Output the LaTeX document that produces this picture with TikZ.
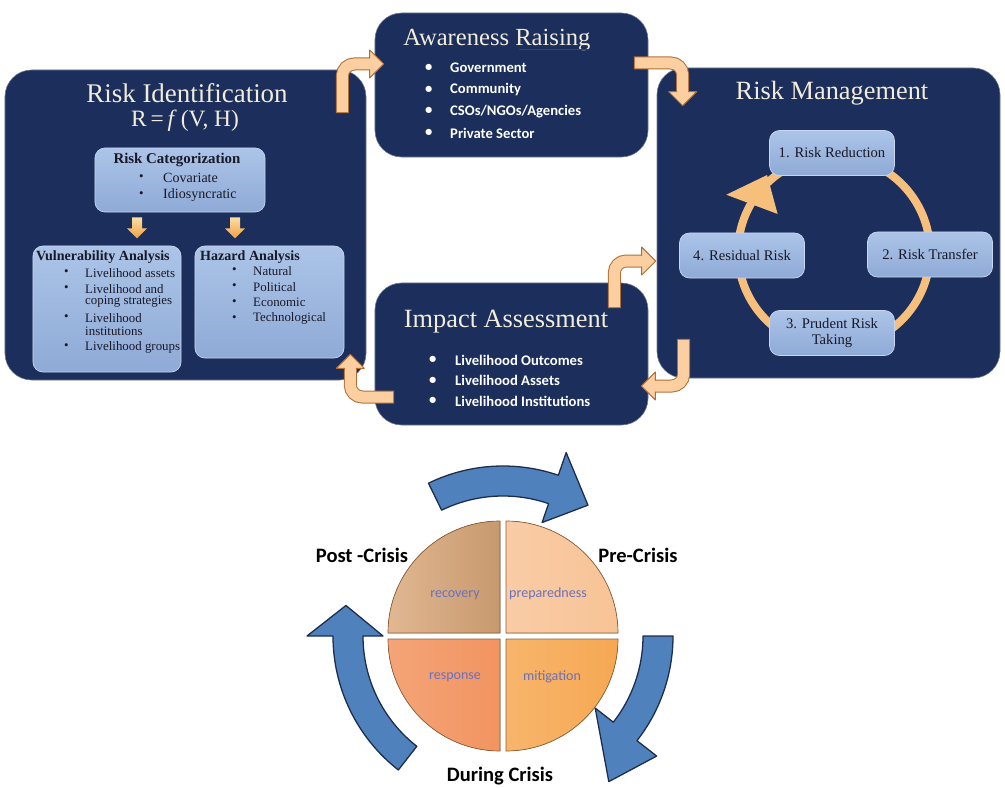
\documentclass[tikz,border=0pt]{standalone}
\usepackage{fontspec}
\setmainfont{Liberation Serif}
\newfontfamily\calibri{Carlito}
\usetikzlibrary{calc}

\definecolor{navy}{RGB}{27,46,92}
\definecolor{navyedge}{RGB}{110,120,145}
\definecolor{paletop}{RGB}{172,196,232}
\definecolor{palebot}{RGB}{142,170,214}
\definecolor{paleedge}{RGB}{200,214,238}
\definecolor{darkink}{RGB}{25,25,40}
\definecolor{cream}{RGB}{242,236,218}
\definecolor{tanfill}{RGB}{251,207,160}
\definecolor{tanedge}{RGB}{176,110,55}
\definecolor{ringorange}{RGB}{246,192,124}
\definecolor{catlight}{RGB}{253,222,160}
\definecolor{catdark}{RGB}{238,160,70}
\definecolor{cycblue}{RGB}{79,129,189}
\definecolor{cycedge}{RGB}{30,45,75}
\definecolor{quadedge}{RGB}{140,95,55}
\definecolor{phaselabel}{RGB}{105,112,190}
\definecolor{recov}{RGB}{217,166,119}
\definecolor{prep}{RGB}{248,195,150}
\definecolor{resp}{RGB}{242,148,96}
\definecolor{mitig}{RGB}{246,168,82}

\tikzset{
  navybox/.style={draw=navyedge, line width=0.5pt, fill=navy, rounded corners=0.8cm, inner sep=0pt},
  palebox/.style={draw=paleedge, line width=0.6pt, top color=paletop, bottom color=palebot, rounded corners=0.3cm, inner sep=0pt},
  boxtitle/.style={text=cream, inner sep=0pt, font=\fontsize{22.5}{26}\selectfont},
  whitebul/.style={text=white, inner sep=0pt, anchor=west, font=\calibri\bfseries\fontsize{12.5}{15}\selectfont},
  palehead/.style={text=darkink, inner sep=0pt, font=\bfseries\fontsize{12}{14}\selectfont},
  paleitem/.style={text=darkink, inner sep=0pt, anchor=west, font=\fontsize{11}{13}\selectfont},
  stagetext/.style={text=darkink, align=center, font=\fontsize{12.5}{14.5}\selectfont},
  tanshaft/.style={draw=tanedge, line width=0.3mm, double=tanfill, double distance=3.3mm, rounded corners=3.6mm, line cap=rect},
  cycarrow/.style={fill=cycblue, draw=cycedge, line width=1.1pt, line join=round},
  quad/.style={draw=quadedge, line width=0.6pt},
  phase/.style={text=phaselabel, inner sep=0pt, font=\calibri\fontsize{12}{14}\selectfont},
  crisis/.style={inner sep=0pt, font=\calibri\bfseries\fontsize{17.5}{20}\selectfont},
  tanhead/.pic={
    \fill[tanfill] (0,-14) -- (14,0) -- (0,14) -- cycle;
    \draw[tanedge, line width=0.3mm, line join=round] (0,-5.5) -- (0,-14) -- (14,0) -- (0,14) -- (0,5.5);
  },
  catarrow/.pic={
    \path[top color=catlight, bottom color=catdark] (-5,0) -- (5,0) -- (5,11) -- (10,11) -- (0,21) -- (-10,11) -- (-5,11) -- cycle;
  }
}

\begin{document}
\begin{tikzpicture}[x=0.03cm, y=-0.03cm]
\useasboundingbox (0,0) rectangle (1005,788);

% the four dark boxes
\node[navybox, minimum width=10.83cm, minimum height=9.3cm] (riskid) at (185.5,225) {};
\node[navybox, minimum width=8.19cm, minimum height=4.32cm] (aware) at (511.5,85) {};
\node[navybox, minimum width=8.19cm, minimum height=4.26cm] (impact) at (511.5,354) {};
\node[navybox, minimum width=10.29cm, minimum height=9.3cm] (riskmgmt) at (828.5,223) {};

% risk identification
\node[boxtitle, font=\fontsize{23}{26}\selectfont] (ridtitle) at (187,93) {Risk Identification};
\node[boxtitle, font=\fontsize{20}{24}\selectfont] (ridfun) at (185,121) {R\,=\,\textit{f}\,(V, H)};

\node[palebox, minimum width=5.1cm, minimum height=1.92cm] (riskcat) at (180,180) {};
\node[palehead, font=\bfseries\fontsize{12.7}{14}\selectfont] (cathead) at (177,160) {Risk Categorization};
\node[paleitem] (catb1) at (139,178) {\textbullet};
\node[paleitem, font=\fontsize{12}{14}\selectfont] (cat1) at (163,178) {Covariate};
\node[paleitem] (catb2) at (139,195) {\textbullet};
\node[paleitem, font=\fontsize{12}{14}\selectfont] (cat2) at (163,195) {Idiosyncratic};

\node[palebox, minimum width=4.44cm, minimum height=3.78cm] (vuln) at (107,309) {};
\node[palehead, anchor=west] (vulnhead) at (36,257) {Vulnerability Analysis};
\node[paleitem] (vb1) at (64,273) {\textbullet};
\node[paleitem] (v1) at (85,273) {Livelihood assets};
\node[paleitem] (vb2) at (64,289) {\textbullet};
\node[paleitem] (v2) at (85,289) {Livelihood and};
\node[paleitem] (v2b) at (85,302) {coping strategies};
\node[paleitem] (vb3) at (64,318) {\textbullet};
\node[paleitem] (v3) at (85,318) {Livelihood};
\node[paleitem] (v3b) at (85,331) {institutions};
\node[paleitem] (vb4) at (64,347) {\textbullet};
\node[paleitem] (v4) at (85,347) {Livelihood groups};

\node[palebox, minimum width=4.47cm, minimum height=3.36cm] (hazard) at (269.5,302) {};
\node[palehead, anchor=west] (hazhead) at (200,257) {Hazard Analysis};
\foreach \t [count=\i] in {Natural, Political, Economic, Technological}{
  \node[paleitem] (hb\i) at ({232}, {271+15.7*(\i-1)}) {\textbullet};
  \node[paleitem] (h\i) at ({253}, {271+15.7*(\i-1)}) {\t};
}

\pic at ($(riskcat.south)+(-43,5)$) {catarrow};
\pic at ($(riskcat.south)+(55,5)$) {catarrow};

% awareness raising
\node[boxtitle, font=\fontsize{21}{25}\selectfont] (awtitle) at (497,40) {Awareness Raising};
\draw[green!45!black, line width=0.4mm] ($(awtitle.base east)+(-72,4)$) -- ($(awtitle.base east)+(-2,4)$);
\foreach \t [count=\i] in {Government, Community, {CSOs/NGOs/Agencies}, Private Sector}{
  \node[whitebul] (awb\i) at ({425}, {68+21.7*(\i-1)}) {\textbullet};
  \node[whitebul] (aw\i) at ({450}, {68+21.7*(\i-1)}) {\t};
}

% impact assessment
\node[boxtitle] (imptitle) at (506,322) {Impact Assessment};
\foreach \t [count=\i] in {Livelihood Outcomes, Livelihood Assets, Livelihood Institutions}{
  \node[whitebul] (imb\i) at ({429}, {360+20.5*(\i-1)}) {\textbullet};
  \node[whitebul] (im\i) at ({455}, {360+20.5*(\i-1)}) {\t};
}

% risk management cycle
\node[boxtitle] (rmtitle) at (832,93) {Risk Management};
\coordinate (ringc) at (834,252);
\draw[ringorange, line width=2.4mm] (ringc) circle[radius=96];
\fill[ringorange] ($(ringc)+(-152:122)$) -- ($(ringc)+(-131:102)$) -- ($(ringc)+(-146:68)$) -- cycle;
\node[palebox, stagetext, minimum width=3.75cm, minimum height=1.35cm] (stage1) at (832,153) {1. Risk Reduction};
\node[palebox, stagetext, minimum width=3.75cm, minimum height=1.35cm] (stage2) at (930,254.5) {2. Risk Transfer};
\node[palebox, stagetext, minimum width=3.75cm, minimum height=1.35cm] (stage3) at (832,333) {3. Prudent Risk\\Taking};
\node[palebox, stagetext, minimum width=3.75cm, minimum height=1.35cm] (stage4) at (742,255.5) {4. Residual Risk};

% bent arrows between the boxes
\coordinate (a1) at ($(riskid.north east)+(-24,37)$);
\coordinate (a1h) at ($(aware.west)+(-5,-21)$);
\draw[tanshaft] (a1) |- (a1h);
\pic at (a1h) {tanhead};

\coordinate (a2) at ($(aware.east)+(-8,-22)$);
\coordinate (a2h) at ($(riskmgmt.north west)+(26,24)$);
\draw[tanshaft] (a2) -| (a2h);
\pic[rotate=-90] at (a2h) {tanhead};

\coordinate (a3) at ($(impact.north east)+(-34,19)$);
\coordinate (a3h) at ($(riskmgmt.west)+(-15,38)$);
\draw[tanshaft] (a3) |- (a3h);
\pic at (a3h) {tanhead};

\coordinate (a4) at ($(riskmgmt.south west)+(27,-33)$);
\coordinate (a4h) at ($(impact.east)+(7,32)$);
\draw[tanshaft] (a4) |- (a4h);
\pic[rotate=180] at (a4h) {tanhead};

\coordinate (a5) at ($(impact.west)+(13,43)$);
\coordinate (a5h) at ($(riskid.south east)+(-16,-12)$);
\draw[tanshaft] (a5) -| (a5h);
\pic[rotate=90] at (a5h) {tanhead};

% crisis cycle
\coordinate (cyc) at (503,636);
\filldraw[quad, left color=recov!80!white, right color=recov!92!black] ($(cyc)+(-3,-3)$) -- ++(-112,0) arc[start angle=180, end angle=270, radius=112] -- cycle;
\filldraw[quad, left color=prep!85!white, right color=prep] ($(cyc)+(3,-3)$) -- ++(112,0) arc[start angle=0, end angle=-90, radius=112] -- cycle;
\filldraw[quad, left color=resp!85!white, right color=resp] ($(cyc)+(-3,3)$) -- ++(-112,0) arc[start angle=180, end angle=90, radius=112] -- cycle;
\filldraw[quad, left color=mitig!85!white, right color=mitig] ($(cyc)+(3,3)$) -- ++(112,0) arc[start angle=0, end angle=90, radius=112] -- cycle;

\node[phase] (recovery) at (455,595) {recovery};
\node[phase] (preparedness) at (548,594) {preparedness};
\node[phase] (response) at (455,677) {response};
\node[phase] (mitigation) at (552,677) {mitigation};

\filldraw[cycarrow] (cyc) ++(-116:170) arc[start angle=-116, end angle=-71, radius=170]
  -- ($(cyc)+(-71:194)$) -- ($(cyc)+(-57:156)$) -- ($(cyc)+(-71:120)$) -- ($(cyc)+(-71:140)$)
  arc[start angle=-71, end angle=-116, radius=140] -- cycle;
\filldraw[cycarrow] (cyc) ++(0:170) arc[start angle=0, end angle=38, radius=170]
  -- ($(cyc)+(38:195)$) -- ($(cyc)+(54:180)$) -- ($(cyc)+(38:117)$) -- ($(cyc)+(38:140)$)
  arc[start angle=38, end angle=0, radius=140] -- cycle;
\filldraw[cycarrow] (cyc) ++(128:170) arc[start angle=128, end angle=180, radius=170]
  -- ($(cyc)+(180:196)$) -- ($(cyc)+(191:160)$) -- ($(cyc)+(180:120)$) -- ($(cyc)+(180:140)$)
  arc[start angle=180, end angle=128, radius=140] -- cycle;

\node[crisis] (post) at (362,555) {Post -Crisis};
\node[crisis] (pre) at (638,555) {Pre-Crisis};
\node[crisis, anchor=base] (during) at (500,781) {During Crisis};
\end{tikzpicture}
\end{document}
